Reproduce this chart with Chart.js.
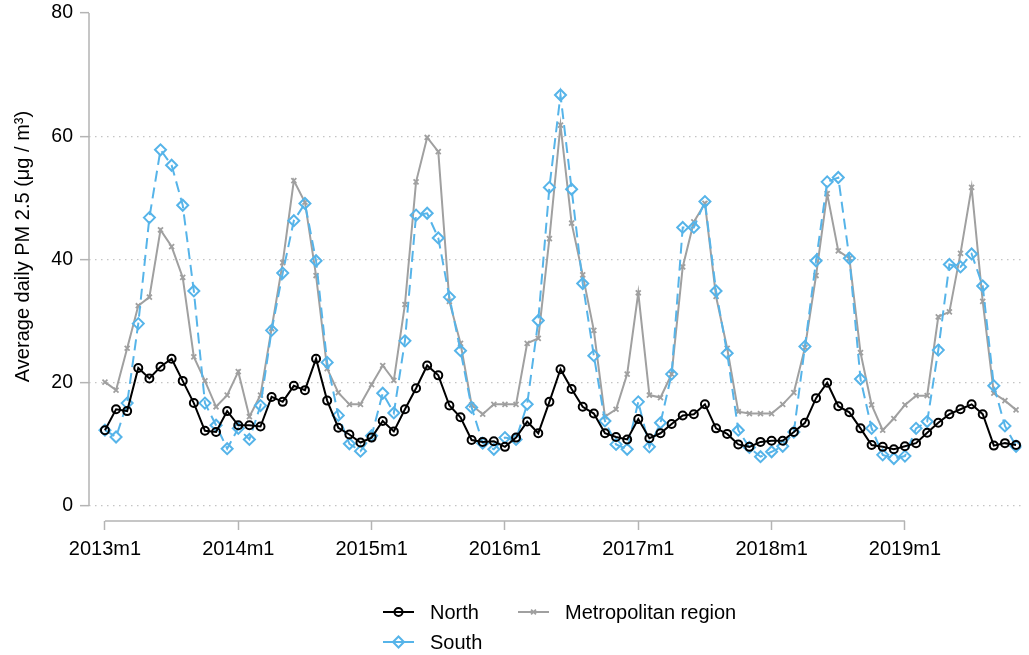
<!DOCTYPE html>
<html>
<head>
<meta charset="utf-8">
<script src="https://cdn.jsdelivr.net/npm/chart.js@4/dist/chart.umd.min.js"></script>
<style>
html,body{margin:0;padding:0;background:#fff;}
#wrap{position:relative;width:1029px;height:655px;}
</style>
</head>
<body>
<div id="wrap"><canvas id="c" width="1029" height="655"></canvas></div>
<script>
// Monthly series, 2013m1 .. 2019m11
const tickLabels = ["2013m1","2014m1","2015m1","2016m1","2017m1","2018m1","2019m1"];
const tickMonths = [0,12,24,36,48,60,72];
const yTicks = [0,20,40,60,80];
const yTitle = 'Average daily PM 2.5 (μg / m³)';

const north = [
  12.3,15.7,15.4,22.4,20.7,22.6,23.9,20.3,16.7,12.2,12.0,15.4,
  13.1,13.1,12.9,17.7,16.9,19.5,18.8,23.9,17.1,12.7,11.6,10.3,
  11.1,13.8,12.1,15.7,19.1,22.8,21.2,16.3,14.4,10.7,10.4,10.5,
  9.6,11.1,13.7,11.8,16.9,22.2,19.0,16.1,15.0,11.8,11.2,10.8,
  14.1,11.0,11.8,13.3,14.7,14.9,16.5,12.6,11.7,10.0,9.6,10.4,
  10.6,10.6,12.0,13.5,17.5,20.0,16.2,15.2,12.6,9.9,9.6,9.2,
  9.7,10.2,11.9,13.5,14.9,15.7,16.5,14.9,9.8,10.2,9.9
];
const south = [
  12.3,11.2,16.7,29.6,46.8,57.8,55.3,48.8,34.9,16.7,13.1,9.3,
  12.6,10.8,16.3,28.5,37.8,46.3,49.1,39.8,23.3,14.7,10.1,8.9,
  11.4,18.3,15.1,26.8,47.2,47.5,43.5,33.9,25.2,16.0,10.2,9.2,
  11.1,10.8,16.5,30.1,51.7,66.7,51.4,36.1,24.4,13.8,10.0,9.2,
  16.9,9.6,13.5,21.4,45.2,45.2,49.4,34.9,24.8,12.3,9.5,8.0,
  8.8,9.7,12.0,25.9,39.8,52.6,53.3,40.2,20.6,12.6,8.3,7.7,
  8.1,12.6,13.7,25.3,39.2,38.8,40.9,35.7,19.5,13.0,9.7
];
const metro = [
  20.1,18.8,25.6,32.5,33.9,44.8,42.1,37.1,24.2,20.3,16.1,18.0,
  21.8,14.5,18.0,28.8,39.5,52.8,49.3,37.4,22.3,18.4,16.5,16.5,
  19.7,22.8,20.4,32.7,52.6,59.8,57.5,33.2,26.4,16.4,14.9,16.5,
  16.5,16.5,26.4,27.2,43.4,61.8,45.9,37.5,28.5,14.5,15.7,21.4,
  34.6,18.0,17.6,21.4,38.8,46.1,49.1,34.0,25.6,15.3,15.0,15.0,
  15.0,16.5,18.4,25.7,37.4,50.7,41.4,40.2,24.9,16.4,12.3,14.2,
  16.4,17.9,17.9,30.7,31.5,41.0,51.7,33.2,18.3,17.1,15.6
];

const BLUE = '#56b4e9';
const GRAY = '#a0a0a0';
const BLACK = '#000000';
const AXIS = '#b4b4b4';
const FONT = "'Liberation Sans', Arial, sans-serif";

const toXY = arr => arr.map((v,i)=>({x:i,y:v}));

const axisPlugin = {
  id:'axisLines',
  beforeDatasetsDraw(chart){
    const {ctx, scales:{x,y}} = chart;
    ctx.save();
    ctx.strokeStyle = AXIS;
    ctx.lineWidth = 1.5;
    ctx.setLineDash([]);
    ctx.beginPath();
    const yl = chart.chartArea.left;
    ctx.moveTo(yl, y.getPixelForValue(80));
    ctx.lineTo(yl, y.getPixelForValue(0));
    const xb = chart.chartArea.bottom;
    ctx.moveTo(x.getPixelForValue(0), xb);
    ctx.lineTo(x.getPixelForValue(72), xb);
    ctx.stroke();
    // y-axis title
    ctx.translate(23, (y.getPixelForValue(80)+y.getPixelForValue(0))/2 - 13);
    ctx.rotate(-Math.PI/2);
    ctx.fillStyle = '#000';
    ctx.font = "20px " + FONT;
    ctx.textAlign = 'center';
    ctx.textBaseline = 'middle';
    ctx.fillText(yTitle, 0, 0);
    ctx.restore();
  }
};

const legendItems = [
  {label:'North', color:BLACK, style:'circle', x:383, y:612},
  {label:'Metropolitan region', color:GRAY, style:'crossRot', x:518, y:612},
  {label:'South', color:BLUE, style:'rectRot', x:383, y:642}
];
const legendPlugin = {
  id:'customLegend',
  afterDraw(chart){
    const ctx = chart.ctx;
    ctx.save();
    legendItems.forEach(it=>{
      ctx.strokeStyle = it.color;
      ctx.lineWidth = 2;
      ctx.setLineDash([]);
      ctx.beginPath();
      ctx.moveTo(it.x, it.y);
      ctx.lineTo(it.x+31, it.y);
      ctx.stroke();
      const cx = it.x+15.5;
      const ds = chart.data.datasets.find(d=>d.label===it.label);
      ctx.fillStyle = (it.style==='crossRot') ? it.color : 'rgba(0,0,0,0)';
      ctx.strokeStyle = it.color;
      ctx.lineWidth = ds.pointBorderWidth;
      Chart.helpers.drawPoint(ctx, {
        pointStyle: it.style,
        radius: it.style==='rectRot'?5.5:(it.style==='circle'?4:3.5),
        borderWidth: ds.pointBorderWidth
      }, cx, it.y);
      ctx.fillStyle = '#000';
      ctx.font = "20px " + FONT;
      ctx.textBaseline = 'middle';
      ctx.textAlign = 'left';
      ctx.fillText(it.label, it.x+47, it.y+1);
    });
    ctx.restore();
  }
};

new Chart(document.getElementById('c'), {
  type:'line',
  data:{
    datasets:[
      {label:'North', data:toXY(north), borderColor:BLACK, borderWidth:2,
       pointStyle:'circle', pointRadius:4, pointBorderWidth:2, pointBorderColor:BLACK,
       pointBackgroundColor:'rgba(0,0,0,0)', tension:0, order:0},
      {label:'South', data:toXY(south), borderColor:BLUE, borderWidth:2, borderDash:[11,6],
       pointStyle:'rectRot', pointRadius:5.5, pointBorderWidth:2, pointBorderColor:BLUE,
       pointBackgroundColor:'rgba(0,0,0,0)', tension:0, order:1},
      {label:'Metropolitan region', data:toXY(metro), borderColor:GRAY, borderWidth:2,
       pointStyle:'crossRot', pointRadius:3.5, pointBorderWidth:1.8, pointBorderColor:GRAY,
       pointBackgroundColor:GRAY, tension:0, order:2}
    ]
  },
  options:{
    responsive:false,
    animation:false,
    devicePixelRatio:1,
    layout:{padding:{left:0,right:4,top:13,bottom:0}},
    plugins:{legend:{display:false}, tooltip:{enabled:false}},
    scales:{
      x:{
        type:'linear', min:-1.435, max:82.49,
        afterBuildTicks(s){ s.ticks = tickMonths.map(v=>({value:v})); },
        afterFit(s){ s.height = 134; s.paddingLeft = 0; s.paddingRight = 0; },
        ticks:{ callback:(v)=>tickLabels[tickMonths.indexOf(v)], color:'#000',
          font:{family:FONT,size:20}, padding:7, maxRotation:0, autoSkip:false },
        grid:{ drawOnChartArea:false, drawTicks:true, tickLength:9, tickColor:AXIS, tickWidth:1.5 },
        border:{display:false}
      },
      y:{
        type:'linear', min:-2.434, max:80,
        afterBuildTicks(s){ s.ticks = yTicks.map(v=>({value:v})); },
        afterFit(s){ s.width = 89; s.paddingTop = 0; s.paddingBottom = 0; },
        ticks:{ color:'#000', font:{family:FONT,size:19.5}, padding:7 },
        grid:{ color:(c)=> (c.tick && c.tick.value===80) ? 'rgba(0,0,0,0)' : '#c4c4c4',
          lineWidth:1.3, drawTicks:true, tickLength:9, tickColor:AXIS, tickWidth:1.5, tickBorderDash:[] },
        border:{display:false, dash:[1.5,4.5]},
        title:{ display:false }
      }
    }
  },
  plugins:[axisPlugin, legendPlugin]
});
</script>
</body>
</html>
